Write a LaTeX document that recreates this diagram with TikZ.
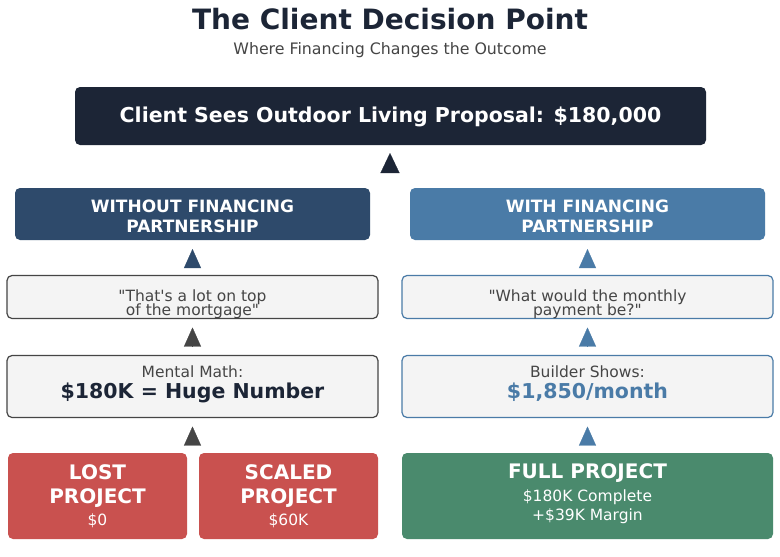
\documentclass[tikz,border=0pt]{standalone}
\usepackage{fontspec}
\setmainfont{DejaVu Sans}[Ligatures=TeXOff]
\usetikzlibrary{arrows.meta,positioning}

\definecolor{navy}{HTML}{1C2536}
\definecolor{deepblue}{HTML}{2E4A6B}
\definecolor{steel}{HTML}{4A7BA7}
\definecolor{slate}{HTML}{454545}
\definecolor{paper}{HTML}{F4F4F4}
\definecolor{brick}{HTML}{C9514F}
\definecolor{forest}{HTML}{4A8A6D}

\newcommand{\fs}[2]{\fontsize{#1}{#2}\selectfont}
\newcommand{\stack}[1]{\vbox{\lineskiplimit=-\maxdimen\halign{\hfil##\hfil\cr#1\crcr}}}
\newcommand{\nudge}[2]{\raisebox{#1}[\height][\depth]{#2}}

\tikzset{
  card/.style={rectangle, rounded corners=5pt, inner sep=0pt, outer sep=0pt, align=center},
  banner/.style={card, text=white, minimum width=355, minimum height=52, font=\bfseries\fs{17}{20}},
  note/.style={card, fill=paper, draw=#1, line width=1.2pt, minimum width=371},
  outcome/.style={card, fill=#1, text=white, minimum height=86},
  lift/.style={-{Triangle[width=17pt,length=19pt]}, color=#1, line width=0.2pt, shorten >=9pt, shorten <=9pt}
}

\begin{document}
\begin{tikzpicture}[x=1pt,y=-1pt]
\fill[white] (0,0) rectangle (780,557);
\useasboundingbox (0,0) rectangle (780,557);

% heading
\node[font=\bfseries\fs{28}{32}, text=navy] (title) at (390,19) {The Client Decision Point};
\node[font=\fs{15.8}{18}, text=slate] (subtitle) at (390,50) {Where Financing Changes the Outcome};

\node[card, fill=navy, text=white, minimum width=631, minimum height=58, font=\bfseries\fs{20.5}{24}] (proposal) at (390.5,116) {\nudge{-1pt}{Client Sees Outdoor Living Proposal: \$180,000}};
\coordinate (split) at (390,188);

\node[banner, fill=deepblue] (without) at (192.5,214) {\nudge{-2.5pt}{\stack{WITHOUT FINANCING\cr PARTNERSHIP}}};
\node[banner, fill=steel] (with) at (587.5,214) {\nudge{-2.5pt}{\stack{WITH FINANCING\cr PARTNERSHIP}}};

% left column
\node[note=slate, text=slate, minimum height=43, font=\fs{15.5}{14}] (doubt) at (192.5,297) {\nudge{-7pt}{\stack{"That's a lot on top\cr of the mortgage"}}};
\node[note=slate, minimum height=62, font=\fs{15.5}{21}] (math) [below=37pt of doubt] {\nudge{2.5pt}{\stack{{\color{slate}Mental Math:}\cr{\color{navy}\bfseries\fs{20.5}{21}\$180K = Huge Number}}}};
\node[outcome=brick, minimum width=179, font=\fs{15.5}{24}] (lost) at (97.5,496) {\bfseries\fs{20}{24}LOST\\\bfseries\fs{20}{24}PROJECT\\[-2pt]\mdseries\fs{15.5}{24}\$0};
\node[outcome=brick, minimum width=179, font=\fs{15.5}{24}] (scaled) [right=12pt of lost] {\bfseries\fs{20}{24}SCALED\\\bfseries\fs{20}{24}PROJECT\\[-2pt]\mdseries\fs{15.5}{24}\$60K};
\coordinate (fork) at (192.5,453);

% right column
\node[note=steel, text=slate, minimum height=43, font=\fs{15.5}{14}] (ask) at (587.5,297) {\nudge{-7pt}{\stack{"What would the monthly\cr payment be?"}}};
\node[note=steel, minimum height=62, font=\fs{15.5}{21}] (payment) [below=37pt of ask] {\nudge{2.5pt}{\stack{{\color{slate}Builder Shows:}\cr{\color{steel}\bfseries\fs{20.5}{21}\$1,850/month}}}};
\node[outcome=forest, minimum width=371, font=\fs{15.5}{19.5}] (full) at (587.5,496) {\nudge{2pt}{\stack{{\bfseries\fs{20}{20}FULL PROJECT}\cr\noalign{\vskip3pt}\$180K Complete\cr+\$39K Margin}}};

% arrows
\draw[lift=navy, -{Triangle[width=19pt,length=20pt]}, shorten >=8pt, shorten <=16pt] (split) -- (split |- proposal.south);
\draw[lift=deepblue] (doubt.north) -- (without.south);
\draw[lift=slate] (math.north) -- (doubt.south);
\draw[lift=slate] (fork) -- (math.south);
\draw[lift=steel] (ask.north) -- (with.south);
\draw[lift=steel] (payment.north) -- (ask.south);
\draw[lift=steel] (full.north) -- (payment.south);
\end{tikzpicture}
\end{document}
